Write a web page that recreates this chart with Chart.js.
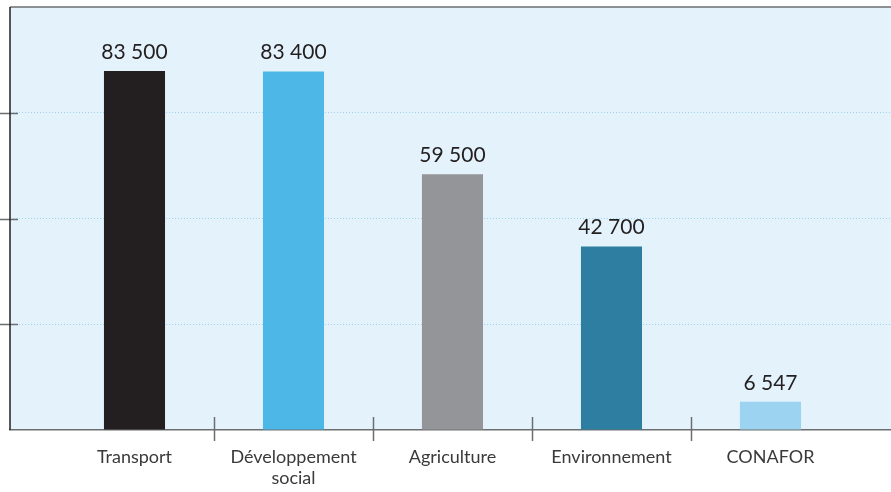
<!DOCTYPE html>
<html>
<head>
<meta charset="utf-8">
<script src="https://cdn.jsdelivr.net/npm/chart.js@4"></script>
<style>
  html, body { margin: 0; padding: 0; background: #fff; }
  #wrap { width: 891px; height: 492px; }
</style>
</head>
<body>
<div id="wrap"><canvas id="chart" width="891" height="492"></canvas></div>
<script>
const categories = ["Transport", ["Développement", "social"], "Agriculture", "Environnement", "CONAFOR"];
const values = [83500, 83400, 59500, 42700, 6547];
const valueLabels = ["83 500", "83 400", "59 500", "42 700", "6 547"];
const barColors = ["#231f20", "#4db8e8", "#939598", "#2e7ea1", "#9bd3f1"];
const yTicks = [0, 24600, 49200, 73800, 98400];

const frame = {
  id: "frame",
  beforeDraw(chart) {
    const { ctx, chartArea: a } = chart;
    ctx.save();
    ctx.fillStyle = "#e3f2fb";
    ctx.fillRect(a.left, a.top, a.right - a.left, a.bottom - a.top);
    ctx.restore();
  },
  afterDraw(chart) {
    const { ctx, chartArea: a, scales } = chart;
    ctx.save();
    ctx.strokeStyle = "#6d6e70";
    ctx.lineWidth = 1.5;
    // top border
    ctx.beginPath();
    ctx.moveTo(a.left, a.top);
    ctx.lineTo(a.right, a.top);
    ctx.stroke();
    // y tick marks, crossing the left border
    ctx.beginPath();
    yTicks.slice(1, -1).forEach(v => {
      const y = Math.round(scales.y.getPixelForValue(v)) + 0.5;
      ctx.moveTo(0, y);
      ctx.lineTo(a.left + 8, y);
    });
    // x tick marks between categories
    for (let i = 0; i < values.length - 1; i++) {
      const x = Math.round(scales.x.getPixelForValue(i + 0.5)) + 0.5;
      ctx.moveTo(x, a.bottom - 13);
      ctx.lineTo(x, a.bottom + 11);
    }
    ctx.stroke();
    // left border
    ctx.strokeStyle = "#231f20";
    ctx.beginPath();
    ctx.moveTo(a.left, a.top);
    ctx.lineTo(a.left, a.bottom);
    ctx.stroke();
    ctx.restore();
  },
  afterDatasetsDraw(chart) {
    const { ctx } = chart;
    const meta = chart.getDatasetMeta(0);
    ctx.save();
    ctx.fillStyle = "#231f20";
    ctx.font = "21px Lato";
    ctx.textAlign = "center";
    ctx.textBaseline = "alphabetic";
    meta.data.forEach((bar, i) => {
      ctx.fillText(valueLabels[i], bar.x, bar.y - 12);
    });
    ctx.restore();
  }
};

new Chart(document.getElementById("chart"), {
  type: "bar",
  data: {
    datasets: [{
      data: values.map((v, i) => ({ x: i, y: v })),
      backgroundColor: barColors,
      borderWidth: 0,
      barPercentage: 0.384,
      categoryPercentage: 1
    }]
  },
  options: {
    responsive: false,
    animation: false,
    layout: { padding: { left: 10, top: 7, right: 0, bottom: 0 } },
    plugins: { legend: { display: false }, tooltip: { enabled: false } },
    scales: {
      x: {
        type: "linear",
        offset: false,
        min: -0.783,
        max: 4.758,
        afterBuildTicks: scale => {
          scale.ticks = values.map((v, i) => ({ value: i }));
        },
        afterFit: scale => { scale.height = 62; },
        grid: { display: false, drawTicks: false },
        border: { display: true, color: "#6d6e70", width: 1.5 },
        ticks: {
          autoSkip: false,
          maxRotation: 0,
          padding: 16,
          color: "#3a3a3a",
          font: { family: "Lato", size: 18 },
          callback: v => categories[v]
        }
      },
      y: {
        min: 0,
        max: 98400,
        afterBuildTicks: scale => {
          scale.ticks = yTicks.map(v => ({ value: v }));
        },
        ticks: { display: false },
        border: { display: false, dash: [1, 2] },
        grid: {
          drawTicks: false,
          color: ctx => (ctx.index > 0 && ctx.index < yTicks.length - 1) ? "#9fd0ee" : "transparent",
          lineWidth: 1
        }
      }
    }
  },
  plugins: [frame]
});
</script>
</body>
</html>
